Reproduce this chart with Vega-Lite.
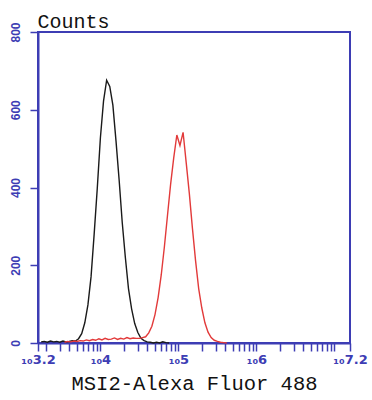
{
  "$schema": "https://vega.github.io/schema/vega-lite/v6.json",
  "autosize": {"type": "none"},
  "padding": {"left": 38, "top": 32, "right": 22, "bottom": 57},
  "width": 312,
  "height": 311,
  "config": {
    "view": {"stroke": "#3d3db4", "strokeWidth": 2},
    "axis": {"grid": false, "domainColor": "#3d3db4", "domainWidth": 2, "tickColor": "#3d3db4", "tickWidth": 1.5, "tickSize": 8, "labelColor": "#3d3db4", "labelFont": "Liberation Sans", "labelFontWeight": "bold"}
  },
  "data": {"values": [
    {"sample": "Control", "log_intensity": 3.24, "count": 3},
    {"sample": "Control", "log_intensity": 3.28, "count": 4},
    {"sample": "Control", "log_intensity": 3.32, "count": 2},
    {"sample": "Control", "log_intensity": 3.36, "count": 5},
    {"sample": "Control", "log_intensity": 3.40, "count": 3},
    {"sample": "Control", "log_intensity": 3.44, "count": 4},
    {"sample": "Control", "log_intensity": 3.48, "count": 2},
    {"sample": "Control", "log_intensity": 3.52, "count": 5},
    {"sample": "Control", "log_intensity": 3.56, "count": 3},
    {"sample": "Control", "log_intensity": 3.60, "count": 4},
    {"sample": "Control", "log_intensity": 3.64, "count": 6},
    {"sample": "Control", "log_intensity": 3.68, "count": 5},
    {"sample": "Control", "log_intensity": 3.72, "count": 11},
    {"sample": "Control", "log_intensity": 3.76, "count": 24},
    {"sample": "Control", "log_intensity": 3.80, "count": 52},
    {"sample": "Control", "log_intensity": 3.84, "count": 98},
    {"sample": "Control", "log_intensity": 3.88, "count": 170},
    {"sample": "Control", "log_intensity": 3.92, "count": 280},
    {"sample": "Control", "log_intensity": 3.96, "count": 398},
    {"sample": "Control", "log_intensity": 4.00, "count": 528},
    {"sample": "Control", "log_intensity": 4.04, "count": 622},
    {"sample": "Control", "log_intensity": 4.08, "count": 676},
    {"sample": "Control", "log_intensity": 4.12, "count": 660},
    {"sample": "Control", "log_intensity": 4.16, "count": 612},
    {"sample": "Control", "log_intensity": 4.20, "count": 520},
    {"sample": "Control", "log_intensity": 4.24, "count": 420},
    {"sample": "Control", "log_intensity": 4.28, "count": 310},
    {"sample": "Control", "log_intensity": 4.32, "count": 220},
    {"sample": "Control", "log_intensity": 4.36, "count": 140},
    {"sample": "Control", "log_intensity": 4.40, "count": 88},
    {"sample": "Control", "log_intensity": 4.44, "count": 50},
    {"sample": "Control", "log_intensity": 4.48, "count": 27},
    {"sample": "Control", "log_intensity": 4.52, "count": 12},
    {"sample": "Control", "log_intensity": 4.56, "count": 6},
    {"sample": "Control", "log_intensity": 4.60, "count": 3},
    {"sample": "Control", "log_intensity": 4.64, "count": 2},
    {"sample": "Control", "log_intensity": 4.68, "count": 0},
    {"sample": "Control", "log_intensity": 4.72, "count": 2},
    {"sample": "Control", "log_intensity": 4.76, "count": 0},
    {"sample": "Control", "log_intensity": 4.80, "count": 3},
    {"sample": "Control", "log_intensity": 4.84, "count": 1},
    {"sample": "Control", "log_intensity": 4.88, "count": 0},
    {"sample": "MSI2", "log_intensity": 3.54, "count": 2},
    {"sample": "MSI2", "log_intensity": 3.58, "count": 4},
    {"sample": "MSI2", "log_intensity": 3.62, "count": 3},
    {"sample": "MSI2", "log_intensity": 3.66, "count": 5},
    {"sample": "MSI2", "log_intensity": 3.70, "count": 4},
    {"sample": "MSI2", "log_intensity": 3.74, "count": 6},
    {"sample": "MSI2", "log_intensity": 3.78, "count": 5},
    {"sample": "MSI2", "log_intensity": 3.82, "count": 8},
    {"sample": "MSI2", "log_intensity": 3.86, "count": 6},
    {"sample": "MSI2", "log_intensity": 3.90, "count": 9},
    {"sample": "MSI2", "log_intensity": 3.94, "count": 7},
    {"sample": "MSI2", "log_intensity": 3.98, "count": 11},
    {"sample": "MSI2", "log_intensity": 4.02, "count": 8},
    {"sample": "MSI2", "log_intensity": 4.06, "count": 12},
    {"sample": "MSI2", "log_intensity": 4.10, "count": 9},
    {"sample": "MSI2", "log_intensity": 4.14, "count": 10},
    {"sample": "MSI2", "log_intensity": 4.18, "count": 13},
    {"sample": "MSI2", "log_intensity": 4.22, "count": 9},
    {"sample": "MSI2", "log_intensity": 4.26, "count": 12},
    {"sample": "MSI2", "log_intensity": 4.30, "count": 10},
    {"sample": "MSI2", "log_intensity": 4.34, "count": 14},
    {"sample": "MSI2", "log_intensity": 4.38, "count": 11},
    {"sample": "MSI2", "log_intensity": 4.42, "count": 13},
    {"sample": "MSI2", "log_intensity": 4.46, "count": 12},
    {"sample": "MSI2", "log_intensity": 4.50, "count": 12},
    {"sample": "MSI2", "log_intensity": 4.54, "count": 14},
    {"sample": "MSI2", "log_intensity": 4.58, "count": 16},
    {"sample": "MSI2", "log_intensity": 4.62, "count": 26},
    {"sample": "MSI2", "log_intensity": 4.66, "count": 43},
    {"sample": "MSI2", "log_intensity": 4.70, "count": 73},
    {"sample": "MSI2", "log_intensity": 4.74, "count": 117},
    {"sample": "MSI2", "log_intensity": 4.78, "count": 175},
    {"sample": "MSI2", "log_intensity": 4.82, "count": 247},
    {"sample": "MSI2", "log_intensity": 4.86, "count": 328},
    {"sample": "MSI2", "log_intensity": 4.90, "count": 408},
    {"sample": "MSI2", "log_intensity": 4.94, "count": 476},
    {"sample": "MSI2", "log_intensity": 4.98, "count": 535},
    {"sample": "MSI2", "log_intensity": 5.02, "count": 508},
    {"sample": "MSI2", "log_intensity": 5.06, "count": 542},
    {"sample": "MSI2", "log_intensity": 5.10, "count": 464},
    {"sample": "MSI2", "log_intensity": 5.14, "count": 385},
    {"sample": "MSI2", "log_intensity": 5.18, "count": 295},
    {"sample": "MSI2", "log_intensity": 5.22, "count": 212},
    {"sample": "MSI2", "log_intensity": 5.26, "count": 140},
    {"sample": "MSI2", "log_intensity": 5.30, "count": 90},
    {"sample": "MSI2", "log_intensity": 5.34, "count": 52},
    {"sample": "MSI2", "log_intensity": 5.38, "count": 28},
    {"sample": "MSI2", "log_intensity": 5.42, "count": 14},
    {"sample": "MSI2", "log_intensity": 5.46, "count": 7},
    {"sample": "MSI2", "log_intensity": 5.50, "count": 4},
    {"sample": "MSI2", "log_intensity": 5.54, "count": 2},
    {"sample": "MSI2", "log_intensity": 5.58, "count": 1},
    {"sample": "MSI2", "log_intensity": 5.62, "count": 0}
  ]},
  "mark": {"type": "line", "interpolate": "linear", "strokeWidth": 1.4},
  "encoding": {
    "x": {
      "field": "log_intensity", "type": "quantitative",
      "scale": {"domain": [3.2, 7.2], "nice": false, "zero": false},
      "axis": {
        "values": [3.2, 3.301, 3.477, 3.602, 3.699, 3.778, 3.845, 3.903, 3.954, 4, 4.301, 4.477, 4.602, 4.699, 4.778, 4.845, 4.903, 4.954, 5, 5.301, 5.477, 5.602, 5.699, 5.778, 5.845, 5.903, 5.954, 6, 6.301, 6.477, 6.602, 6.699, 6.778, 6.845, 6.903, 6.954, 7, 7.2],
        "labelExpr": "(datum.value == 3.2 || datum.value == 4 || datum.value == 5 || datum.value == 6 || datum.value == 7.2) ? '₁₀' + datum.value : ''",
        "labelAlign": "center", "labelOffset": 0, "labelFont": "DejaVu Sans", "labelFontSize": 13, "labelPadding": 2,
        "labelFlush": false, "labelOverlap": false,
        "title": "MSI2-Alexa Fluor 488", "titleFont": "Liberation Mono", "titleFontSize": 20.5, "titleFontWeight": "normal", "titleColor": "#111111", "titlePadding": 7
      }
    },
    "y": {
      "field": "count", "type": "quantitative",
      "scale": {"domain": [0, 800], "nice": false},
      "axis": {
        "values": [0, 200, 400, 600, 800], "labelAngle": -90, "labelFontSize": 12, "labelPadding": 8,
        "title": "Counts", "titleAngle": 0, "titleAlign": "left", "titleBaseline": "alphabetic", "titleX": -1, "titleY": -5,
        "titleFont": "Liberation Mono", "titleFontSize": 20, "titleFontWeight": "normal", "titleColor": "#111111"
      }
    },
    "color": {"field": "sample", "type": "nominal", "scale": {"domain": ["MSI2", "Control"], "range": ["#e23a3a", "#1a1a1a"]}, "legend": null}
  }
}
